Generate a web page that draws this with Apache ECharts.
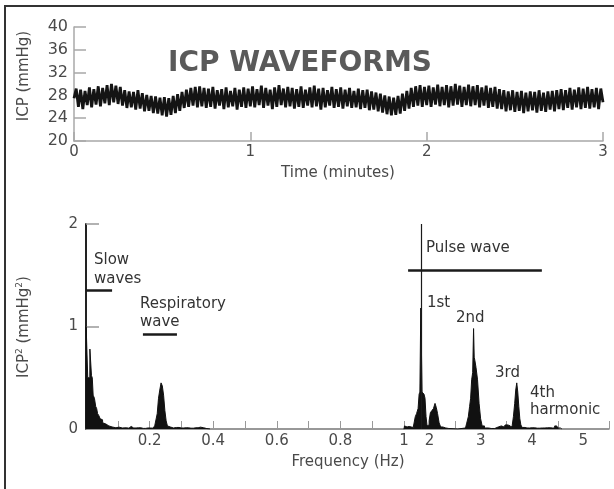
<!DOCTYPE html>
<html>
<head>
<meta charset="utf-8">
<script src="https://cdn.jsdelivr.net/npm/echarts@6/dist/echarts.min.js"></script>
<style>
html,body{margin:0;padding:0;background:#fff;}
#chart{width:614px;height:489px;}
</style>
</head>
<body>
<div id="chart"></div>
<script>
// ---------- DATA ----------
// ICP waveform (mmHg), one sample every 0.0125 min over 0..3 min
var icpStepMin = 0.0125;
var icpValues = [
27.5,29.2,26.0,29.0,25.6,28.8,26.3,29.4,25.9,29.1,26.4,29.6,26.1,29.3,26.6,29.8,26.3,30.0,26.8,29.7,
26.5,29.5,26.2,28.9,25.8,28.7,25.9,28.6,25.5,28.9,25.7,28.4,25.2,28.1,25.3,27.9,24.9,27.8,24.8,27.6,
24.5,27.7,24.3,27.5,24.6,27.9,24.9,28.2,25.3,28.6,25.8,29.0,26.0,29.3,26.2,29.5,25.9,29.6,26.1,29.3,
25.8,29.2,26.0,29.5,25.7,28.9,26.2,29.1,25.6,29.4,25.9,28.8,26.1,29.3,25.5,29.0,26.0,29.4,25.8,29.2,
26.1,29.6,25.9,29.1,26.3,29.7,25.8,29.3,26.2,29.0,25.6,29.4,26.0,29.8,26.3,29.2,25.9,29.5,26.1,29.3,
25.7,29.1,26.0,29.6,25.8,29.0,26.2,29.4,25.9,29.7,26.1,29.2,25.5,29.3,25.9,28.9,26.2,29.5,25.8,29.1,
26.0,29.4,25.7,29.0,26.1,29.3,25.8,28.8,25.9,29.2,25.6,28.9,25.8,29.0,25.4,28.7,25.5,28.5,25.2,28.3,
25.0,28.0,24.7,27.8,24.5,27.6,24.6,27.9,24.8,28.3,25.3,28.8,25.7,29.3,26.0,29.6,26.2,29.8,26.0,29.5,
26.3,29.7,26.0,29.4,26.4,29.9,26.1,29.5,26.3,29.8,25.9,29.6,26.2,30.0,26.4,29.7,26.0,29.5,26.3,29.9,
26.1,29.6,26.3,29.8,25.9,29.4,26.2,29.7,25.8,29.3,26.0,29.5,25.7,29.1,25.6,28.9,25.2,28.7,25.4,28.9,
25.1,28.6,25.3,28.8,24.9,28.5,25.2,28.7,25.4,28.6,25.0,28.9,25.3,28.5,25.1,28.7,25.5,28.8,25.2,28.9,
25.6,29.1,25.4,28.9,25.8,29.3,25.5,29.0,25.9,29.4,25.6,29.2,25.8,29.5,25.7,29.1,25.9,29.3,25.6,29.2,
26.8
];
var timeTicks = [0, 1, 2, 3];
var icpTicks = [20, 24, 28, 32, 36, 40];

// Power spectrum, low-frequency part (0..1 Hz)
var lowFreq = [0.000,0.001,0.005,0.006,0.012,0.0125,0.017,0.0175,0.022,0.023,0.030,0.031,0.036,0.037,0.044,0.045,0.052,0.053,0.062,0.064,0.072,0.076,0.088,0.100,0.108,0.120,0.135,0.142,0.150,0.165,0.180,0.195,0.210,0.222,0.226,0.230,0.234,0.238,0.242,0.246,0.250,0.254,0.258,0.265,0.275,0.285,0.300,0.315,0.330,0.345,0.360,0.370,0.380,0.390];
var lowPow  = [0,    1.00, 1.00, 0.50, 0.50, 0.78,  0.78, 0.52,  0.50, 0.33, 0.30, 0.22, 0.20, 0.15, 0.13, 0.10, 0.09, 0.06, 0.05, 0.035,0.03, 0.02, 0.012,0.018,0.01, 0.012,0.008,0.025,0.01, 0.012,0.006,0.01, 0.008,0.03, 0.15, 0.30, 0.38, 0.45, 0.42, 0.33, 0.18, 0.08, 0.03, 0.02, 0.01, 0.015,0.01, 0.012,0.008,0.012,0.018,0.012,0.004,0];

// Power spectrum, pulse part (1.5..5.5 Hz)
var highFreq = [1.50,1.52,1.56,1.60,1.64,1.68,1.71,1.73,1.76,1.79,1.80,1.82,1.835,1.845,1.86,1.88,1.90,1.92,1.94,1.96,1.98,2.00,2.03,2.06,2.09,2.12,2.14,2.17,2.20,2.23,2.28,2.35,2.40,2.70,2.74,2.77,2.79,2.81,2.83,2.85,2.865,2.875,2.89,2.92,2.95,2.98,3.01,3.04,3.10,3.20,3.34,3.40,3.45,3.50,3.55,3.60,3.62,3.65,3.67,3.69,3.71,3.73,3.75,3.77,3.79,3.82,3.90,4.00,4.10,4.20,4.30,4.40,4.48,4.52,4.58];
var highPow  = [0,   0.03,0.02,0.025,0.02,0.015,0.03,0.12,0.15,0.20,0.34,0.36,1.18, 1.18, 0.36,0.35,0.34,0.30,0.12,0.03,0.04,0.08,0.16,0.18,0.20,0.25,0.21,0.15,0.06,0.02,0.01,0.005,0,  0.01,0.05,0.12,0.22,0.30,0.48,0.55,0.98, 0.70, 0.67,0.60,0.48,0.25,0.10,0.03,0.01,0.005,0.02,0.03,0.02,0.04,0.03,0.01,0.03,0.12,0.25,0.38,0.45,0.36,0.22,0.10,0.04,0.015,0.01,0.012,0.008,0.01,0.012,0.01,0.03,0.01,0];

// Annotation brackets (frequency Hz, power)
var slowBracket = [[0, 1.35], [0.082, 1.35]];
var respBracket = [[0.179, 0.92], [0.286, 0.92]];
var pulseBracket = [[1.58, 1.55], [4.19, 1.55]];
var pulseMarker = [[1.845, 0], [1.845, 2]];

// ---------- CHART ----------
var FONT = 'DejaVu Sans';
var LBL = '#4a4a4a';

var icpData = icpValues.map(function (v, i) { return [i * icpStepMin, v]; });
var lowData = lowFreq.map(function (f, i) { return [f, lowPow[i]]; });
var highData = highFreq.map(function (f, i) { return [f, highPow[i]]; });

function seg(p, w) {
  return [{ coord: p[0], lineStyle: { color: '#1a1a1a', width: w, type: 'solid' } }, { coord: p[1] }];
}

var chart = echarts.init(document.getElementById('chart'), null, { renderer: 'canvas' });

var option = {
  animation: false,
  backgroundColor: '#ffffff',
  grid: [
    { left: 74, right: 11, top: 27, height: 114 },
    { left: 86, width: 318, top: 224, height: 205 },
    { left: 404, width: 205, top: 224, height: 205 }
  ],
  xAxis: [
    {
      gridIndex: 0, type: 'value', min: 0, max: 3, interval: 1,
      axisLine: { lineStyle: { color: '#a8a8a8', width: 1.5 } },
      axisTick: { inside: true, length: 9, lineStyle: { color: '#a8a8a8', width: 1.5 } },
      axisLabel: { color: LBL, fontFamily: FONT, fontSize: 15, margin: 4 },
      splitLine: { show: false }
    },
    {
      gridIndex: 1, type: 'value', min: 0, max: 1, interval: 0.1,
      axisLine: { lineStyle: { color: '#777', width: 1.5 } },
      axisTick: { inside: true, length: 8, lineStyle: { color: '#999', width: 1 } },
      axisLabel: {
        color: LBL, fontFamily: FONT, fontSize: 15, margin: 5,
        formatter: function (v) {
          var k = Math.round(v * 10);
          if (k === 0 || k % 2 === 1) return '';
          if (k === 10) return '1';
          return (k / 10).toFixed(1);
        }
      },
      splitLine: { show: false }
    },
    {
      // labels only (2,3,4,5)
      gridIndex: 2, type: 'value', min: 1.5, max: 5.5, interval: 0.5, position: 'bottom',
      axisLine: { lineStyle: { color: '#777', width: 1.5 } },
      axisTick: { show: false },
      axisLabel: {
        color: LBL, fontFamily: FONT, fontSize: 15, margin: 5,
        formatter: function (v) {
          var k = Math.round(v * 2);
          if (k % 2 === 1 || k >= 11) return '';
          return String(k / 2);
        }
      },
      splitLine: { show: false }
    },
    {
      // ticks only, at the half-Hz marks
      gridIndex: 2, type: 'value', min: 1.5, max: 5.5, interval: 1, position: 'bottom', offset: 0,
      axisLine: { show: false },
      axisTick: { inside: true, length: 8, lineStyle: { color: '#999', width: 1 } },
      axisLabel: { show: false },
      splitLine: { show: false }
    }
  ],
  yAxis: [
    {
      gridIndex: 0, type: 'value', min: 20, max: 40, interval: 4,
      axisLine: { show: true, lineStyle: { color: '#a8a8a8', width: 1.5 } },
      axisTick: { show: true, inside: true, length: 12, lineStyle: { color: '#a8a8a8', width: 1.5 } },
      axisLabel: { color: LBL, fontFamily: FONT, fontSize: 16, margin: 6 },
      splitLine: { show: false }
    },
    {
      gridIndex: 1, type: 'value', min: 0, max: 2, interval: 1,
      axisLine: { show: true, lineStyle: { color: '#222', width: 2 } },
      axisTick: { show: true, inside: true, length: 13, lineStyle: { color: '#999', width: 1.5 } },
      axisLabel: { color: LBL, fontFamily: FONT, fontSize: 15, margin: 8 },
      splitLine: { show: false }
    },
    {
      gridIndex: 2, type: 'value', min: 0, max: 2, show: false,
      splitLine: { show: false }
    }
  ],
  series: [
    {
      type: 'line', xAxisIndex: 0, yAxisIndex: 0, data: icpData,
      symbol: 'none', lineStyle: { color: '#141414', width: 2.8 }, silent: true
    },
    {
      type: 'line', xAxisIndex: 1, yAxisIndex: 1, data: lowData, step: 'middle',
      symbol: 'none', lineStyle: { color: '#111', width: 1 },
      areaStyle: { color: '#111', opacity: 1 }, silent: true,
      markLine: {
        silent: true, symbol: ['none', 'none'], label: { show: false },
        data: [seg(slowBracket, 2.5), seg(respBracket, 2.5)]
      }
    },
    {
      type: 'line', xAxisIndex: 2, yAxisIndex: 2, data: highData, step: 'middle',
      symbol: 'none', lineStyle: { color: '#111', width: 1 },
      areaStyle: { color: '#111', opacity: 1 }, silent: true,
      markLine: {
        silent: true, symbol: ['none', 'none'], label: { show: false },
        data: [seg(pulseBracket, 2.5), seg(pulseMarker, 1.2)]
      }
    }
  ],
  graphic: [
    { type: 'line', shape: { x1: 5, y1: 6, x2: 5, y2: 489 }, style: { stroke: '#333', lineWidth: 2 } },
    { type: 'line', shape: { x1: 4, y1: 6, x2: 614, y2: 6 }, style: { stroke: '#333', lineWidth: 2 } },
    { type: 'text', left: 168, top: 50, style: { text: 'ICP WAVEFORMS', fontFamily: FONT, fontWeight: 'bold', fontSize: 28, fill: '#5a5a5a' } },
    { type: 'text', x: 338, y: 173, style: { text: 'Time (minutes)', fontFamily: FONT, fontSize: 15, fill: LBL, align: 'center', verticalAlign: 'middle' } },
    { type: 'text', x: 24, y: 76, rotation: Math.PI / 2, style: { text: 'ICP (mmHg)', fontFamily: FONT, fontSize: 15, fill: LBL, align: 'center', verticalAlign: 'middle' } },
    { type: 'text', x: 348, y: 462, style: { text: 'Frequency (Hz)', fontFamily: FONT, fontSize: 15, fill: LBL, align: 'center', verticalAlign: 'middle' } },
    { type: 'text', x: 24, y: 327, rotation: Math.PI / 2, style: {
        text: '{n|ICP}{s|2}{n| (mmHg}{s|2}{n|)}', align: 'center', verticalAlign: 'middle',
        rich: {
          n: { fontFamily: FONT, fontSize: 15, fill: LBL, color: LBL },
          s: { fontFamily: FONT, fontSize: 9, fill: LBL, color: LBL, verticalAlign: 'top', padding: [0, 0, 8, 0] }
        }
    } },
    { type: 'text', x: 94, y: 260, style: { text: 'Slow', fontFamily: FONT, fontSize: 15, fill: '#333', verticalAlign: 'middle' } },
    { type: 'text', x: 94, y: 279, style: { text: 'waves', fontFamily: FONT, fontSize: 15, fill: '#333', verticalAlign: 'middle' } },
    { type: 'text', x: 140, y: 304, style: { text: 'Respiratory', fontFamily: FONT, fontSize: 15, fill: '#333', verticalAlign: 'middle' } },
    { type: 'text', x: 140, y: 322, style: { text: 'wave', fontFamily: FONT, fontSize: 15, fill: '#333', verticalAlign: 'middle' } },
    { type: 'text', x: 426, y: 248, style: { text: 'Pulse wave', fontFamily: FONT, fontSize: 15, fill: '#333', verticalAlign: 'middle' } },
    { type: 'text', x: 427, y: 303, style: { text: '1st', fontFamily: FONT, fontSize: 15, fill: '#333', verticalAlign: 'middle' } },
    { type: 'text', x: 456, y: 318, style: { text: '2nd', fontFamily: FONT, fontSize: 15, fill: '#333', verticalAlign: 'middle' } },
    { type: 'text', x: 495, y: 373, style: { text: '3rd', fontFamily: FONT, fontSize: 15, fill: '#333', verticalAlign: 'middle' } },
    { type: 'text', x: 530, y: 393, style: { text: '4th', fontFamily: FONT, fontSize: 15, fill: '#333', verticalAlign: 'middle' } },
    { type: 'text', x: 530, y: 410, style: { text: 'harmonic', fontFamily: FONT, fontSize: 15, fill: '#333', verticalAlign: 'middle' } }
  ]
};
chart.setOption(option);
</script>
</body>
</html>
